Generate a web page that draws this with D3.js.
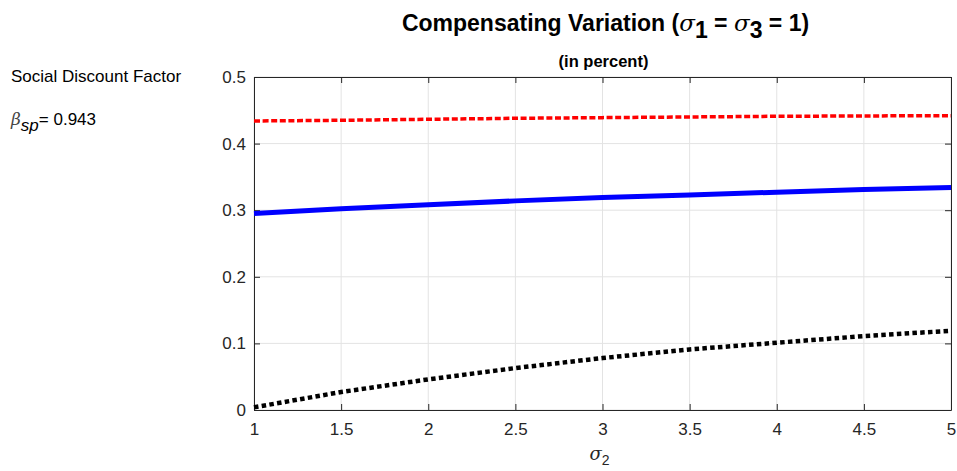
<!DOCTYPE html>
<html>
<head>
<meta charset="utf-8">
<script src="https://cdn.jsdelivr.net/npm/d3@7"></script>
<style>
  body { margin: 0; background: #fff; }
  text { font-family: "Liberation Sans", Arial, sans-serif; }
</style>
</head>
<body>
<div id="chart"></div>
<script>
'use strict';

// sigma_2 grid
var sigma2 = [1, 1.5, 2, 2.5, 3, 3.5, 4, 4.5, 5];
// compensating variation, in percent
var redSeries = [0.434, 0.435, 0.4365, 0.438, 0.439, 0.440, 0.441, 0.4415, 0.442];
var blueSeries = [0.295, 0.302, 0.308, 0.314, 0.319, 0.323, 0.327, 0.331, 0.334];
var blackSeries = [0.004, 0.027, 0.046, 0.063, 0.078, 0.091, 0.101, 0.111, 0.119];

var xTicks = [1, 1.5, 2, 2.5, 3, 3.5, 4, 4.5, 5];
var yTicks = [0, 0.1, 0.2, 0.3, 0.4, 0.5];

var width = 957, height = 471;
var plotLeft = 254, plotRight = 951, plotTop = 77, plotBottom = 410;
var fontFam = '"Liberation Sans", Arial, sans-serif';

var svg = d3.select('#chart').append('svg')
  .attr('width', width)
  .attr('height', height);

var x = d3.scaleLinear().domain([1, 5]).range([plotLeft, plotRight]);
var y = d3.scaleLinear().domain([0, 0.5]).range([plotBottom, plotTop]);

// grid
svg.append('g').selectAll('line')
  .data(xTicks).enter()
  .append('line')
  .attr('x1', function (d) { return x(d); })
  .attr('x2', function (d) { return x(d); })
  .attr('y1', plotTop).attr('y2', plotBottom)
  .attr('stroke', '#e3e3e3').attr('stroke-width', 1);

svg.append('g').selectAll('line')
  .data(yTicks).enter()
  .append('line')
  .attr('y1', function (d) { return y(d); })
  .attr('y2', function (d) { return y(d); })
  .attr('x1', plotLeft).attr('x2', plotRight)
  .attr('stroke', '#e3e3e3').attr('stroke-width', 1);

// axes
var xAxis = d3.axisBottom(x).tickValues(xTicks).tickSizeInner(-6).tickSizeOuter(0)
  .tickFormat(function (d) { return String(d); });
var yAxis = d3.axisLeft(y).tickValues(yTicks).tickSizeInner(-6).tickSizeOuter(0)
  .tickFormat(function (d) { return d === 0 ? '0' : d3.format('.1f')(d); });

var gx = svg.append('g').attr('transform', 'translate(0,' + plotBottom + ')').call(xAxis);
gx.attr('font-size', 17).attr('font-family', fontFam);
gx.selectAll('text').attr('y', 13).attr('dy', '0.71em').attr('fill', '#262626');

var gy = svg.append('g').attr('transform', 'translate(' + plotLeft + ',0)').call(yAxis);
gy.attr('font-size', 17).attr('font-family', fontFam);
gy.selectAll('text').attr('x', -8).attr('fill', '#262626');

svg.append('g').attr('transform', 'translate(0,' + plotTop + ')')
  .call(d3.axisTop(x).tickValues(xTicks).tickSizeInner(-6).tickSizeOuter(0).tickFormat(''));
svg.append('g').attr('transform', 'translate(' + plotRight + ',0)')
  .call(d3.axisRight(y).tickValues(yTicks).tickSizeInner(-6).tickSizeOuter(0).tickFormat(''));

svg.selectAll('.domain').attr('stroke', '#262626');
svg.selectAll('.tick line').attr('stroke', '#262626');

// lines
var line = d3.line()
  .x(function (d) { return x(d[0]); })
  .y(function (d) { return y(d[1]); });

function zip(vals) {
  return sigma2.map(function (s, i) { return [s, vals[i]]; });
}

var plotArea = svg.append('g');

plotArea.append('path')
  .datum(zip(blueSeries))
  .attr('d', line)
  .attr('fill', 'none')
  .attr('stroke', '#0000ff')
  .attr('stroke-width', 5);

plotArea.append('path')
  .datum(zip(redSeries))
  .attr('d', line)
  .attr('fill', 'none')
  .attr('stroke', '#ff0000')
  .attr('stroke-width', 3.5)
  .attr('stroke-dasharray', '6,2.6');

plotArea.append('path')
  .datum(zip(blackSeries))
  .attr('d', line)
  .attr('fill', 'none')
  .attr('stroke', '#000000')
  .attr('stroke-width', 4.5)
  .attr('stroke-dasharray', '4.5,3.3');

// titles
var title = svg.append('text')
  .attr('x', (plotLeft + plotRight) / 2 + 3)
  .attr('y', 31)
  .attr('text-anchor', 'middle')
  .attr('font-size', 23)
  .attr('font-weight', 'bold')
  .attr('fill', '#000');
title.append('tspan').text('Compensating Variation (');
title.append('tspan').text('σ').attr('font-family', '"DejaVu Serif", serif').attr('font-style', 'italic').attr('font-weight', 'normal');
title.append('tspan').text('1').attr('dy', 7);
title.append('tspan').text(' = ').attr('dy', -7);
title.append('tspan').text('σ').attr('font-family', '"DejaVu Serif", serif').attr('font-style', 'italic').attr('font-weight', 'normal');
title.append('tspan').text('3').attr('dy', 7);
title.append('tspan').text(' = 1)').attr('dy', -7);

svg.append('text')
  .attr('x', (plotLeft + plotRight) / 2 + 1)
  .attr('y', 67)
  .attr('text-anchor', 'middle')
  .attr('font-size', 16.5)
  .attr('font-weight', 'bold')
  .attr('fill', '#000')
  .text('(in percent)');

var xlab = svg.append('text')
  .attr('x', (plotLeft + plotRight) / 2 - 3)
  .attr('y', 460)
  .attr('text-anchor', 'middle')
  .attr('font-size', 18)
  .attr('fill', '#262626');
xlab.append('tspan').text('σ').attr('font-family', '"DejaVu Serif", serif').attr('font-style', 'italic');
xlab.append('tspan').text('2').attr('dy', 5).attr('font-size', 14);

// side annotation
svg.append('text')
  .attr('x', 11).attr('y', 82)
  .attr('font-size', 17)
  .attr('fill', '#000')
  .text('Social Discount Factor');

var beta = svg.append('text')
  .attr('x', 11).attr('y', 125)
  .attr('font-size', 17)
  .attr('fill', '#000');
beta.append('tspan').text('β').attr('font-family', '"DejaVu Serif", serif').attr('font-style', 'italic').attr('fill', '#444');
beta.append('tspan').text('sp').attr('dy', 6).attr('font-style', 'italic');
beta.append('tspan').text('= 0.943').attr('dy', -6);
</script>
</body>
</html>
